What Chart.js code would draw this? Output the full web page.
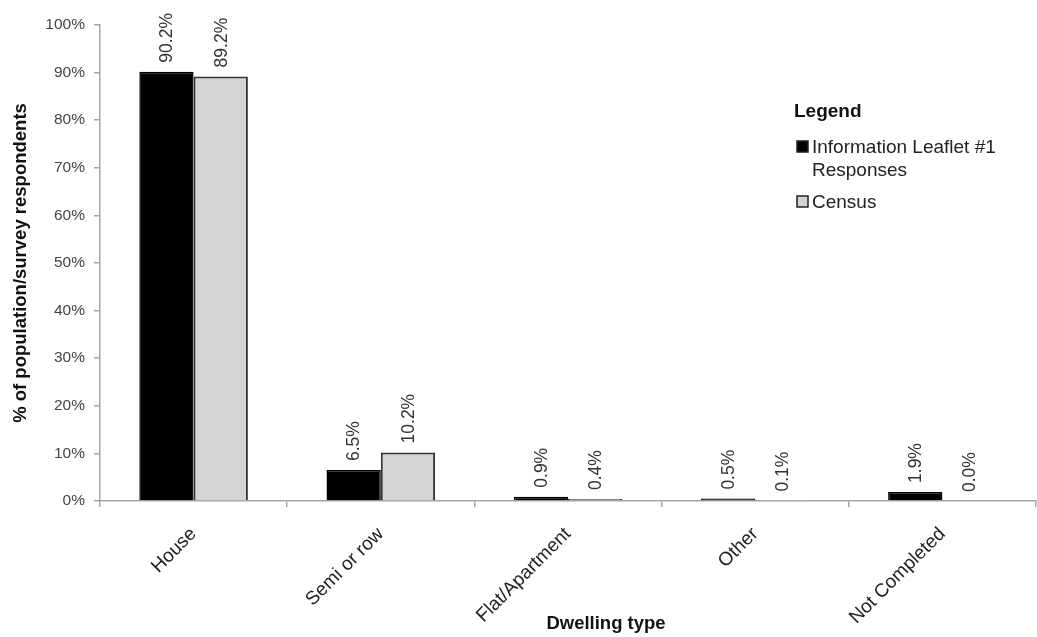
<!DOCTYPE html>
<html>
<head>
<meta charset="utf-8">
<script src="https://cdn.jsdelivr.net/npm/chart.js@4"></script>
<style>
  body { margin: 0; background: #fff; }
  #wrap { width: 1037px; height: 637px; }
</style>
</head>
<body>
<div id="wrap"><canvas id="dwellingChart" width="1037" height="637"></canvas></div>
<script>
// ===== DATA =====
const categories = ["House", "Semi or row", "Flat/Apartment", "Other", "Not Completed"];
const leafletValues = [90.2, 6.5, 0.9, 0.5, 1.9];
const censusValues = [89.2, 10.2, 0.4, 0.1, 0.0];
const seriesNames = [["Information Leaflet #1", "Responses"], ["Census"]];
const yTicks = [0, 10, 20, 30, 40, 50, 60, 70, 80, 90, 100];

const FONT = "'Liberation Sans', Arial, sans-serif";

// value labels rotated above each bar
const barLabels = {
    id: "barLabels",
    afterDatasetsDraw(chart) {
        const ctx = chart.ctx;
        ctx.save();
        ctx.font = "17.5px " + FONT;
        ctx.fillStyle = "#333";
        ctx.textAlign = "left";
        ctx.textBaseline = "middle";
        chart.data.datasets.forEach((ds, i) => {
            chart.getDatasetMeta(i).data.forEach((bar, j) => {
                ctx.save();
                ctx.translate(bar.x + 1, bar.y - 9);
                ctx.rotate(-Math.PI / 2);
                ctx.fillText(ds.data[j].toFixed(1) + "%", 0, 0);
                ctx.restore();
            });
        });
        ctx.restore();
    }
};

// legend box on the right, plus x title (sits off-centre in the original)
const sideLegend = {
    id: "sideLegend",
    afterDraw(chart) {
        const ctx = chart.ctx;
        ctx.save();
        ctx.textBaseline = "middle";
        ctx.textAlign = "left";
        ctx.fillStyle = "#111";
        ctx.font = "bold 19px " + FONT;
        ctx.fillText("Legend", 794, 112);

        let y = 147;
        chart.data.datasets.forEach((ds, i) => {
            ctx.fillStyle = ds.backgroundColor;
            ctx.strokeStyle = "#222";
            ctx.lineWidth = 1.5;
            ctx.fillRect(797, y - 6, 11, 11);
            ctx.strokeRect(797, y - 6, 11, 11);
            ctx.fillStyle = "#222";
            ctx.font = "19px " + FONT;
            seriesNames[i].forEach((line, k) => ctx.fillText(line, 812, y + 1 + k * 23));
            y += seriesNames[i].length * 23 + 9;
        });

        ctx.fillStyle = "#111";
        ctx.textAlign = "center";
        ctx.font = "bold 18.5px " + FONT;
        ctx.fillText("Dwelling type", 606, 624);
        ctx.restore();
    }
};

new Chart(document.getElementById("dwellingChart"), {
    type: "bar",
    data: {
        labels: categories,
        datasets: [
            { label: seriesNames[0].join(" "), data: leafletValues, backgroundColor: "#000000",
              borderColor: "#000000", borderWidth: 1.5, barPercentage: 1.0, categoryPercentage: 0.58 },
            { label: seriesNames[1].join(" "), data: censusValues, backgroundColor: "#d4d4d4",
              borderColor: "#333333", borderWidth: 2, barPercentage: 1.0, categoryPercentage: 0.58 }
        ]
    },
    options: {
        responsive: false,
        devicePixelRatio: 1,
        animation: false,
        layout: { padding: { top: 25, right: 1, left: 0, bottom: 0 } },
        plugins: {
            legend: { display: false },
            tooltip: { enabled: false }
        },
        scales: {
            x: {
                afterFit(scale) { scale.height = 136; },
                grid: { drawOnChartArea: false, drawTicks: true, tickLength: 6, color: "#a6a6a6", lineWidth: 1.5 },
                border: { color: "#a6a6a6", width: 1.5 },
                ticks: {
                    maxRotation: 45, minRotation: 45, padding: 16,
                    color: "#222", font: { family: FONT, size: 19 }
                }
            },
            y: {
                min: 0, max: 100,
                afterFit(scale) { scale.width = 100; },
                afterBuildTicks(scale) { scale.ticks = yTicks.map(v => ({ value: v })); },
                grid: { drawOnChartArea: false, drawTicks: true, tickLength: 6, color: "#a6a6a6", lineWidth: 1.5 },
                border: { color: "#a6a6a6", width: 1.5 },
                ticks: {
                    padding: 9, color: "#444", font: { family: FONT, size: 15.5 },
                    callback: v => v + "%"
                },
                title: {
                    display: true, text: "% of population/survey respondents",
                    color: "#111", font: { family: FONT, size: 18.5, weight: "bold" },
                    padding: { top: 10, bottom: 0 }
                }
            }
        }
    },
    plugins: [barLabels, sideLegend]
});
</script>
</body>
</html>
